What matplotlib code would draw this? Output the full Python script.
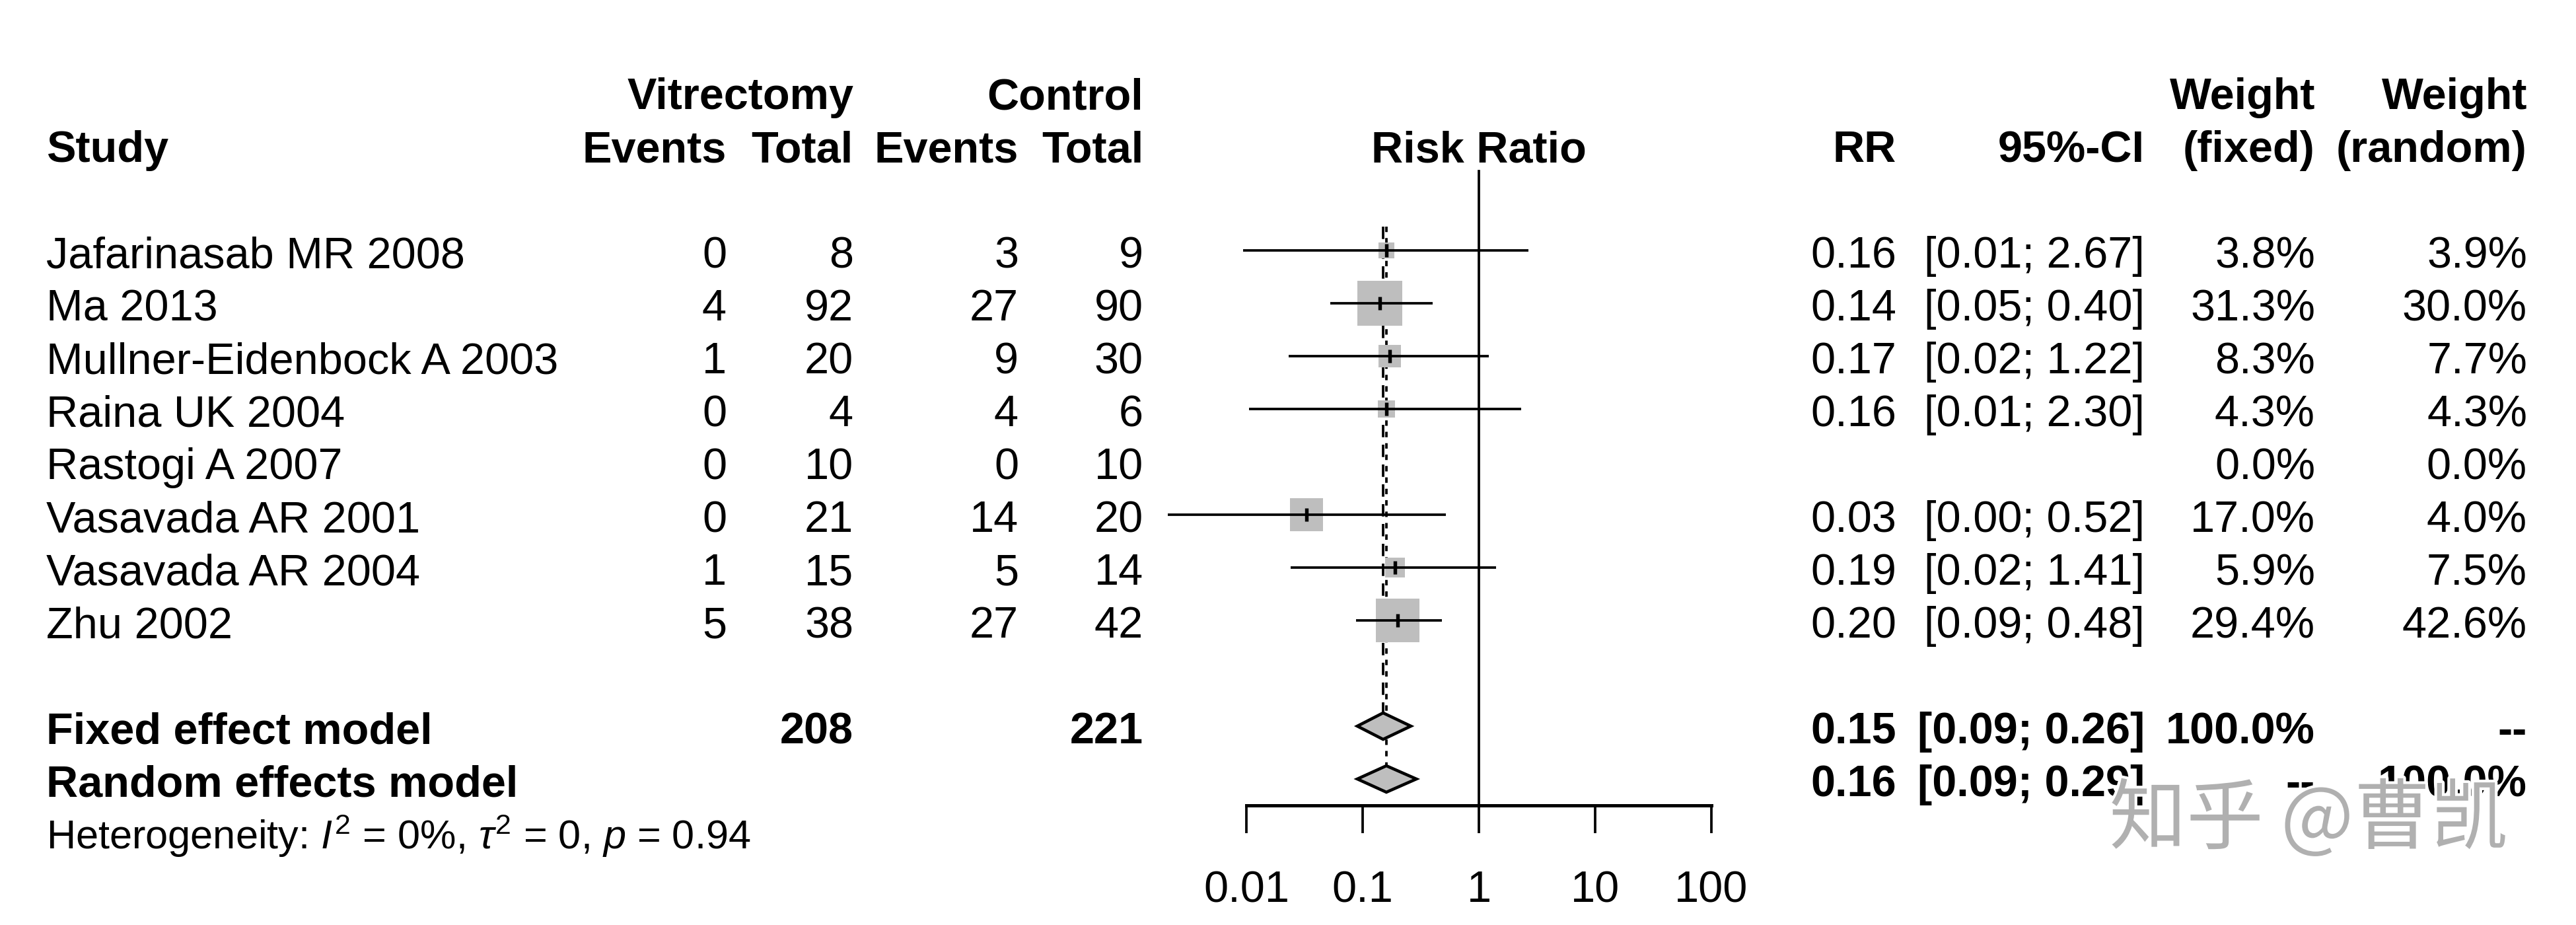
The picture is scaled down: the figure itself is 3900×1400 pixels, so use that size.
import numpy as np
import matplotlib.pyplot as plt
import matplotlib.patheffects as pe
from matplotlib.patches import Polygon
from matplotlib.transforms import blended_transform_factory

plt.rcParams['font.family'] = ['Liberation Sans', 'DejaVu Sans']
plt.rcParams['mathtext.fontset'] = 'custom'
plt.rcParams['mathtext.rm'] = 'Liberation Sans'
plt.rcParams['mathtext.it'] = 'Liberation Sans:italic'

# data
studies = ["Jafarinasab MR 2008", "Ma 2013", "Mullner-Eidenbock A 2003", "Raina UK 2004",
           "Rastogi A 2007", "Vasavada AR 2001", "Vasavada AR 2004", "Zhu 2002"]
ev_vit = [0, 4, 1, 0, 0, 0, 1, 5]
n_vit = [8, 92, 20, 4, 10, 21, 15, 38]
ev_ctl = [3, 27, 9, 4, 0, 14, 5, 27]
n_ctl = [9, 90, 30, 6, 10, 20, 14, 42]
rr = [0.16, 0.14, 0.17, 0.16, np.nan, 0.033, 0.19, 0.20]
ci_lo = [0.0094, 0.053, 0.023, 0.0106, np.nan, 0.0021, 0.024, 0.088]
ci_hi = [2.67, 0.40, 1.22, 2.30, np.nan, 0.52, 1.41, 0.48]
w_fixed = [3.8, 31.3, 8.3, 4.3, 0.0, 17.0, 5.9, 29.4]
w_random = [3.9, 30.0, 7.7, 4.3, 0.0, 4.0, 7.5, 42.6]

fixed_est, fixed_lo, fixed_hi = 0.15, 0.09, 0.26
rand_est, rand_lo, rand_hi = 0.16, 0.09, 0.29
tot_vit, tot_ctl = sum(n_vit), sum(n_ctl)
ticks = [0.01, 0.1, 1, 10, 100]
tick_labels = ["0.01", "0.1", "1", "10", "100"]

W, H = 3900, 1400
fig = plt.figure(figsize=(W / 300, H / 300), dpi=300)
ax = fig.add_axes([0, 0, 1, 1])
ax.set_xscale('log')
x1, dec = 2239, 176.0      # pixel of RR=1, pixels per decade
y0, pitch = 379, 80.0      # pixel of first row, pixels per row
ax.set_xlim(10 ** ((0 - x1) / dec), 10 ** ((W - x1) / dec))
ax.set_ylim((H - y0) / pitch, (0 - y0) / pitch)
ax.axis('off')

tr = blended_transform_factory(fig.transFigure, ax.transData)
fs = 16
base = 0.325  # baseline offset below row centre

def txt(xpx, row, s, ha='right', bold=False, size=fs):
    ax.text(xpx / W, row + base, s, transform=tr, ha=ha, va='baseline',
            fontsize=size, fontweight='bold' if bold else 'normal')

c_study, c_ev1, c_n1, c_ev2, c_n2 = 70, 1100, 1292, 1542, 1731
c_rr, c_ci, c_wf, c_wr = 2871, 3247, 3505, 3826

# headers
txt(c_n1, -3, "Vitrectomy", bold=True)
txt(c_n2, -3, "Control", bold=True)
txt(c_wf, -3, "Weight", bold=True)
txt(c_wr, -3, "Weight", bold=True)
txt(c_study, -2, "Study", ha='left', bold=True)
txt(c_ev1, -2, "Events", bold=True)
txt(c_n1, -2, "Total", bold=True)
txt(c_ev2, -2, "Events", bold=True)
txt(c_n2, -2, "Total", bold=True)
ax.text(1, -2 + base, "Risk Ratio", ha='center', va='baseline', fontsize=fs, fontweight='bold')
txt(c_rr, -2, "RR", bold=True)
txt(c_ci, -2, "95%-CI", bold=True)
txt(c_wf, -2, "(fixed)", bold=True)
txt(c_wr, -2, "(random)", bold=True)

# study rows
for i, name in enumerate(studies):
    txt(c_study, i, name, ha='left')
    txt(c_ev1, i, str(ev_vit[i]))
    txt(c_n1, i, str(n_vit[i]))
    txt(c_ev2, i, str(ev_ctl[i]))
    txt(c_n2, i, str(n_ctl[i]))
    if not np.isnan(rr[i]):
        txt(c_rr, i, f"{rr[i]:.2f}")
        txt(c_ci, i, f"[{ci_lo[i]:.2f}; {ci_hi[i]:.2f}]")
        ms = 16.3 * np.sqrt(w_fixed[i] / 31.3)
        ax.plot(rr[i], i, marker='s', ms=ms, color='#bebebe', mew=0, zorder=2)
        ax.plot([ci_lo[i], ci_hi[i]], [i, i], color='black', lw=0.9, zorder=3,
                solid_capstyle='butt')
        ax.plot(rr[i], i, marker='|', ms=5, mew=1.3, color='black', zorder=4)
    txt(c_wf, i, f"{w_fixed[i]:.1f}%")
    txt(c_wr, i, f"{w_random[i]:.1f}%")

# pooled rows
rf, rr_ = len(studies) + 1, len(studies) + 2
txt(c_study, rf, "Fixed effect model", ha='left', bold=True)
txt(c_n1, rf, str(tot_vit), bold=True)
txt(c_n2, rf, str(tot_ctl), bold=True)
txt(c_rr, rf, f"{fixed_est:.2f}", bold=True)
txt(c_ci, rf, f"[{fixed_lo:.2f}; {fixed_hi:.2f}]", bold=True)
txt(c_wf, rf, "100.0%", bold=True)
txt(c_wr, rf, "--", bold=True)
txt(c_study, rr_, "Random effects model", ha='left', bold=True)
txt(c_rr, rr_, f"{rand_est:.2f}", bold=True)
txt(c_ci, rr_, f"[{rand_lo:.2f}; {rand_hi:.2f}]", bold=True)
txt(c_wf, rr_, "--", bold=True)
txt(c_wr, rr_, "100.0%", bold=True)
txt(c_study, rr_ + 1, r"Heterogeneity: $I^2$ = 0%, $\tau^2$ = 0, $p$ = 0.94", ha='left', size=14.7)

hd = 0.25
for est, lo, hi, r in [(fixed_est, fixed_lo, fixed_hi, rf), (rand_est, rand_lo, rand_hi, rr_)]:
    ax.add_patch(Polygon([(lo, r), (est, r - hd), (hi, r), (est, r + hd)], closed=True,
                         facecolor='#bebebe', edgecolor='black', lw=1.1, zorder=3))

# pooled estimate lines
ax.plot([fixed_est, fixed_est], [-0.45, rf - hd], color='black', lw=0.9, ls=(0, (5, 3)), zorder=1)
ax.plot([rand_est, rand_est], [-0.45, rr_ - hd], color='black', lw=0.9, ls=(0, (2.2, 2.4)), zorder=1)

# null line and axis
ax_row = rr_ + 0.5
ax.plot([1, 1], [-1.5, ax_row], color='black', lw=0.9, zorder=1)
ax.plot([ticks[0], ticks[-1]], [ax_row, ax_row], color='black', lw=1.2, solid_capstyle='projecting')
ax.vlines(ticks, ax_row, ax_row + 0.52, color='black', lw=0.9)
for t, lab in zip(ticks, tick_labels):
    ax.text(t, rr_ + 2 + base, lab, ha='center', va='baseline', fontsize=fs)

# watermark
fig.text(3495 / W, 1 - 1243 / H, "知乎 @曹凯", family=['Noto Sans CJK SC', 'DejaVu Sans'],
         fontsize=28, color='#b0b0b0', ha='center', va='center', zorder=10,
         path_effects=[pe.withStroke(linewidth=2, foreground='white')])

fig.savefig("out.png", dpi=300, facecolor='white')
